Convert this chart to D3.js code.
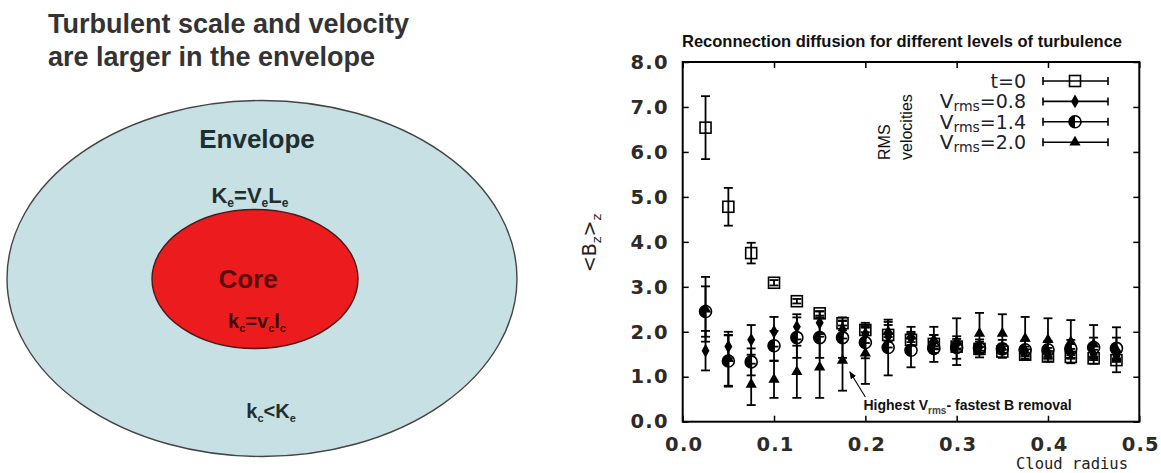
<!DOCTYPE html>
<html>
<head>
<meta charset="utf-8">
<script src="https://cdn.jsdelivr.net/npm/d3@7"></script>
<style>
body { margin: 0; background: #fff; }
</style>
</head>
<body>
<script>
// cloud radius of each sample
var radius = [0.025, 0.05, 0.075, 0.1, 0.125, 0.15, 0.175, 0.2, 0.225, 0.25, 0.275, 0.3, 0.325, 0.35, 0.375, 0.4, 0.425, 0.45, 0.475];

// <Bz>z and error for each run
var bT0   = [6.54, 4.78, 3.75, 3.09, 2.68, 2.41, 2.19, 2.04, 1.93, 1.82, 1.73, 1.67, 1.62, 1.56, 1.49, 1.45, 1.44, 1.41, 1.37];
var errT0 = [0.70, 0.42, 0.23, 0.06, 0.05, 0.05, 0.05, 0.05, 0.05, 0.05, 0.05, 0.04, 0.04, 0.04, 0.04, 0.04, 0.04, 0.04, 0.04];
var bV08   = [1.58, 1.67, 1.82, 2.00, 2.11, 2.20, 2.05, 1.95, 1.90, 1.85, 1.78, 1.72, 1.66, 1.62, 1.57, 1.54, 1.52, 1.50, 1.46];
var errV08 = [0.44, 0.26, 0.33, 0.33, 0.28, 0.25, 0.20, 0.20, 0.25, 0.15, 0.15, 0.12, 0.12, 0.10, 0.10, 0.10, 0.10, 0.10, 0.10];
var bV14   = [2.45, 1.35, 1.33, 1.69, 1.87, 1.87, 1.87, 1.76, 1.65, 1.59, 1.63, 1.65, 1.63, 1.62, 1.60, 1.60, 1.62, 1.65, 1.63];
var errV14 = [0.56, 0.57, 0.30, 0.33, 0.45, 0.45, 0.45, 0.35, 0.62, 0.38, 0.30, 0.25, 0.20, 0.20, 0.20, 0.20, 0.20, 0.22, 0.24];
var bV20   = [2.50, 1.40, 0.83, 0.94, 1.11, 1.21, 1.36, 1.52, 2.00, 1.90, 1.82, 1.78, 1.96, 1.96, 1.85, 1.82, 1.78, 1.72, 1.60];
var errV20 = [0.72, 0.60, 0.46, 0.41, 0.58, 0.68, 0.67, 0.68, 0.22, 0.21, 0.29, 0.52, 0.46, 0.43, 0.48, 0.48, 0.48, 0.43, 0.50];

var xTicks = [0, 0.1, 0.2, 0.3, 0.4, 0.5];
var yTicks = [0, 1, 2, 3, 4, 5, 6, 7, 8];
var legendNames = ["t=0", "0.8", "1.4", "2.0"];

var series = [
	{ name: legendNames[0], vals: bT0, errs: errT0, shape: "square" },
	{ name: legendNames[1], vals: bV08, errs: errV08, shape: "diamond" },
	{ name: legendNames[2], vals: bV14, errs: errV14, shape: "half" },
	{ name: legendNames[3], vals: bV20, errs: errV20, shape: "triangle" }
];

var svg = d3.select("body").append("svg")
	.attr("width", 1161)
	.attr("height", 473)
	.style("font-family", "'Liberation Sans', Arial, sans-serif");

// ---------- left: core / envelope sketch ----------
var left = svg.append("g");
left.append("text").attr("x", 48).attr("y", 33)
	.attr("font-size", 27).attr("font-weight", "bold").attr("fill", "#333")
	.text("Turbulent scale and velocity");
left.append("text").attr("x", 48).attr("y", 66)
	.attr("font-size", 27).attr("font-weight", "bold").attr("fill", "#333")
	.text("are larger in the envelope");

left.append("ellipse")
	.attr("cx", 262).attr("cy", 278.5).attr("rx", 255).attr("ry", 178)
	.attr("fill", "#c6e0e4").attr("stroke", "#444").attr("stroke-width", 1.4);
left.append("ellipse")
	.attr("cx", 255).attr("cy", 279).attr("rx", 103).attr("ry", 69.5)
	.attr("fill", "#ec1c1e").attr("stroke", "#4a1a1a").attr("stroke-width", 1.4);

left.append("text").attr("x", 257).attr("y", 148).attr("text-anchor", "middle")
	.attr("font-size", 26).attr("font-weight", "bold").attr("fill", "#1f2f30")
	.text("Envelope");
left.append("text").attr("x", 248).attr("y", 288).attr("text-anchor", "middle")
	.attr("font-size", 26).attr("font-weight", "bold").attr("fill", "#5c0b0b")
	.text("Core");

function subText(g, x, y, size, color, parts) {
	var t = g.append("text").attr("x", x).attr("y", y).attr("text-anchor", "middle")
		.attr("font-size", size).attr("font-weight", "bold").attr("fill", color);
	parts.forEach(function(p, i) {
		var dy = 0;
		if (p[1]) dy = 4;
		else if (i > 0 && parts[i - 1][1]) dy = -4;
		var ts = t.append("tspan").attr("dy", dy).text(p[0]);
		if (p[1]) ts.attr("font-size", size * 0.55);
	});
	return t;
}
subText(left, 250, 203, 22, "#1f2f30", [["K", 0], ["e", 1], ["=V", 0], ["e", 1], ["L", 0], ["e", 1]]);
subText(left, 257, 328, 20, "#3a0808", [["k", 0], ["c", 1], ["=v", 0], ["c", 1], ["l", 0], ["c", 1]]);
subText(left, 271, 418, 20, "#1f2f30", [["k", 0], ["c", 1], ["<K", 0], ["e", 1]]);

// ---------- right: reconnection diffusion plot ----------
var x = d3.scaleLinear().domain([0, 0.5]).range([682.7, 1139.3]);
var y = d3.scaleLinear().domain([0, 8]).range([421.7, 62]);
var tickFont = "'DejaVu Sans', sans-serif";

svg.append("text").attr("x", 682).attr("y", 47)
	.attr("font-size", 16.5).attr("font-weight", "bold").attr("fill", "#111")
	.text("Reconnection diffusion for different levels of turbulence");

var gx = svg.append("g").attr("transform", "translate(0," + y(0) + ")")
	.call(d3.axisBottom(x).tickValues(xTicks).tickSizeInner(-6).tickSizeOuter(0)
		.tickPadding(15).tickFormat(d3.format(".1f")));
var gy = svg.append("g").attr("transform", "translate(" + x(0) + ",0)")
	.call(d3.axisLeft(y).tickValues(yTicks).tickSizeInner(-6).tickSizeOuter(0)
		.tickPadding(14).tickFormat(d3.format(".1f")));
var gt = svg.append("g").attr("transform", "translate(0," + y(8) + ")")
	.call(d3.axisTop(x).tickValues(xTicks).tickSizeInner(-6).tickSizeOuter(0).tickFormat(""));
var gr = svg.append("g").attr("transform", "translate(" + x(0.5) + ",0)")
	.call(d3.axisRight(y).tickValues(yTicks).tickSizeInner(-6).tickSizeOuter(0).tickFormat(""));
[gx, gy, gt, gr].forEach(function(g) {
	g.select(".domain").remove();
	g.selectAll(".tick line").attr("stroke", "#000").attr("stroke-width", 1.5);
	g.selectAll(".tick text").attr("font-family", tickFont).attr("font-size", 19.5)
		.attr("font-weight", "bold").attr("letter-spacing", 1.2).attr("fill", "#2e2a28");
});
gx.selectAll(".tick text").attr("dx", 1);

svg.append("rect")
	.attr("x", x(0)).attr("y", y(8))
	.attr("width", x(0.5) - x(0)).attr("height", y(0) - y(8))
	.attr("fill", "none").attr("stroke", "#000").attr("stroke-width", 2);

// y label <Bz>z
var yl = svg.append("text")
	.attr("transform", "translate(596,243) rotate(-90)")
	.attr("text-anchor", "middle").attr("font-family", tickFont)
	.attr("font-size", 19).attr("fill", "#222");
yl.append("tspan").text("<B");
yl.append("tspan").attr("font-size", 13).attr("dy", 5).text("z");
yl.append("tspan").attr("dy", -5).text(">");
yl.append("tspan").attr("font-size", 13).attr("dy", 5).text("z");

svg.append("text").attr("x", 1128).attr("y", 469).attr("text-anchor", "end")
	.attr("font-family", "'DejaVu Sans Mono', monospace").attr("font-size", 15.5)
	.attr("fill", "#222").text("Cloud radius");

function drawMarker(g, shape, cx, cy) {
	if (shape == "square") {
		g.append("rect").attr("x", cx - 5.5).attr("y", cy - 5.5)
			.attr("width", 11).attr("height", 11)
			.attr("fill", "none").attr("stroke", "#000").attr("stroke-width", 1.6);
	} else if (shape == "diamond") {
		g.append("path").attr("transform", "translate(" + cx + "," + cy + ")")
			.attr("d", d3.symbol(d3.symbolDiamond, 55)()).attr("fill", "#000");
	} else if (shape == "triangle") {
		g.append("path").attr("transform", "translate(" + cx + "," + cy + ")")
			.attr("d", d3.symbol(d3.symbolTriangle, 55)()).attr("fill", "#000");
	} else {
		g.append("circle").attr("cx", cx).attr("cy", cy).attr("r", 6)
			.attr("fill", "none").attr("stroke", "#000").attr("stroke-width", 1.6);
		g.append("path")
			.attr("d", "M" + cx + "," + (cy - 6) + "A6,6 0 0,0 " + cx + "," + (cy + 6) + "Z")
			.attr("fill", "#000");
	}
}

var plot = svg.append("g").attr("class", "data");
series.forEach(function(s) {
	var g = plot.append("g");
	radius.forEach(function(r, i) {
		var cx = x(r), lo = y(s.vals[i] - s.errs[i]), hi = y(s.vals[i] + s.errs[i]);
		g.append("line").attr("x1", cx).attr("x2", cx).attr("y1", lo).attr("y2", hi)
			.attr("stroke", "#000").attr("stroke-width", 1.8);
		g.append("line").attr("x1", cx - 4.5).attr("x2", cx + 4.5).attr("y1", lo).attr("y2", lo)
			.attr("stroke", "#000").attr("stroke-width", 1.8);
		g.append("line").attr("x1", cx - 4.5).attr("x2", cx + 4.5).attr("y1", hi).attr("y2", hi)
			.attr("stroke", "#000").attr("stroke-width", 1.8);
		drawMarker(g, s.shape, cx, y(s.vals[i]));
	});
});

// legend
var legend = svg.append("g").attr("font-family", tickFont).attr("fill", "#1c2230");
series.forEach(function(s, i) {
	var ly = 81 + i * 20.4;
	var t = legend.append("text").attr("x", 1026).attr("y", ly + 7).attr("text-anchor", "end")
		.attr("font-size", 19).attr("fill", "#1c2230");
	if (i == 0) {
		t.text(s.name);
	} else {
		t.append("tspan").attr("font-size", 20).text("V");
		t.append("tspan").attr("font-size", 14).attr("dy", 3).text("rms");
		t.append("tspan").attr("dy", -3).text("=" + s.name);
	}
	legend.append("line").attr("x1", 1043).attr("x2", 1108).attr("y1", ly).attr("y2", ly)
		.attr("stroke", "#000").attr("stroke-width", 1.6);
	[1043, 1108].forEach(function(ex) {
		legend.append("line").attr("x1", ex).attr("x2", ex).attr("y1", ly - 4).attr("y2", ly + 4)
			.attr("stroke", "#000").attr("stroke-width", 1.6);
	});
	drawMarker(legend, s.shape, 1075, ly);
});
legend.append("text").attr("transform", "translate(890,160) rotate(-90)")
	.attr("font-family", "'Liberation Sans', Arial, sans-serif").attr("font-size", 16)
	.attr("fill", "#111").text("RMS");
legend.append("text").attr("transform", "translate(912,160) rotate(-90)")
	.attr("font-family", "'Liberation Sans', Arial, sans-serif").attr("font-size", 16)
	.attr("fill", "#111").text("velocities");

// annotation
svg.append("defs").append("marker")
	.attr("id", "arrowhead").attr("viewBox", "0 0 10 10")
	.attr("refX", 9).attr("refY", 5).attr("markerWidth", 7).attr("markerHeight", 7)
	.attr("orient", "auto")
	.append("path").attr("d", "M0,1L10,5L0,9Z").attr("fill", "#000");
svg.append("line")
	.attr("x1", x(0.2)).attr("y1", y(0.55))
	.attr("x2", x(0.183)).attr("y2", y(1.11))
	.attr("stroke", "#000").attr("stroke-width", 1.1)
	.attr("marker-end", "url(#arrowhead)");
var ann = svg.append("text").attr("x", x(0.198)).attr("y", y(0.26))
	.attr("font-size", 14).attr("font-weight", "bold").attr("fill", "#111");
ann.append("tspan").text("Highest V");
ann.append("tspan").attr("font-size", 10).attr("dy", 4).attr("fill", "#444").text("rms");
ann.append("tspan").attr("dy", -4).text("- fastest B removal");
</script>
</body>
</html>
